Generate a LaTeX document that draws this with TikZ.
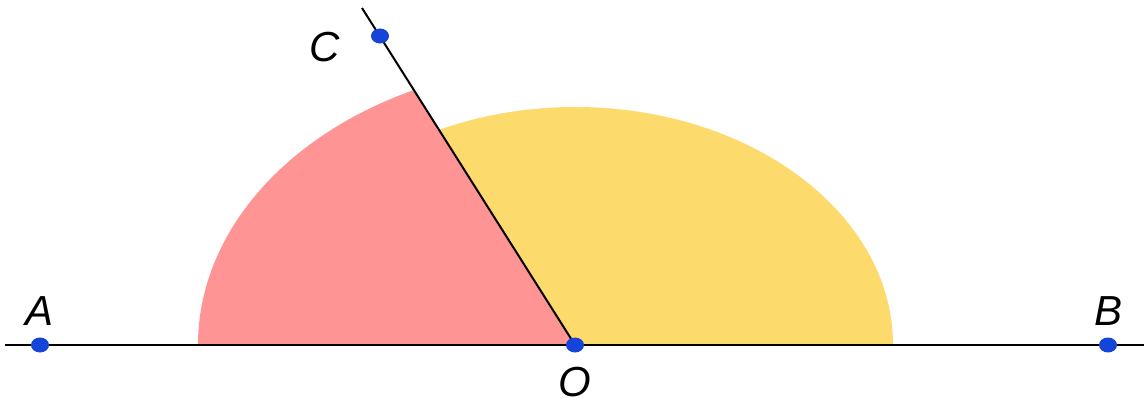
\documentclass[tikz,border=0pt]{standalone}
\usepackage{fontspec}
\setmainfont{Liberation Sans}
\usetikzlibrary{shapes.geometric}
\definecolor{pinkc}{HTML}{FF9494}
\definecolor{yellowc}{HTML}{FDDA6C}
\definecolor{dotc}{HTML}{1444D8}
\begin{document}
\begin{tikzpicture}[x=1pt,y=1pt,
  dotn/.style={ellipse,fill=dotc,inner sep=0pt,minimum width=18pt,minimum height=15pt},
  lbl/.style={font=\fontsize{42}{50}\selectfont\itshape,inner sep=0pt},
  ln/.style={line width=2pt,black}]
\useasboundingbox[fill=white] (0,0) rectangle (1144,405);
\coordinate (O) at (575,60);
\coordinate (L) at (5,60);
\coordinate (R) at (1144,60);
\coordinate (T) at (362,397);
% sectors
\fill[yellowc] (O) -- ++(318,0) arc[start angle=0,end angle=115.3,x radius=318,y radius=238] -- cycle;
\fill[pinkc] (O) -- ++(-377,0) arc[start angle=180,end angle=115.3,x radius=377,y radius=282] -- cycle;
\draw[ln] (L) -- (R);
\draw[ln] (O) -- (T);
\node[dotn] (A) at (40,60) {};
\node[dotn] (B) at (1108,60) {};
\node[dotn] (Od) at (O) {};
\node[dotn] (C) at (380,369) {};
\node[lbl] (la) at (40,94) {A};
\node[lbl] (lb) at (1108,94) {B};
\node[lbl] (lo) at (575,23) {O};
\node[lbl] (lc) at (325,358) {C};
\end{tikzpicture}
\end{document}
